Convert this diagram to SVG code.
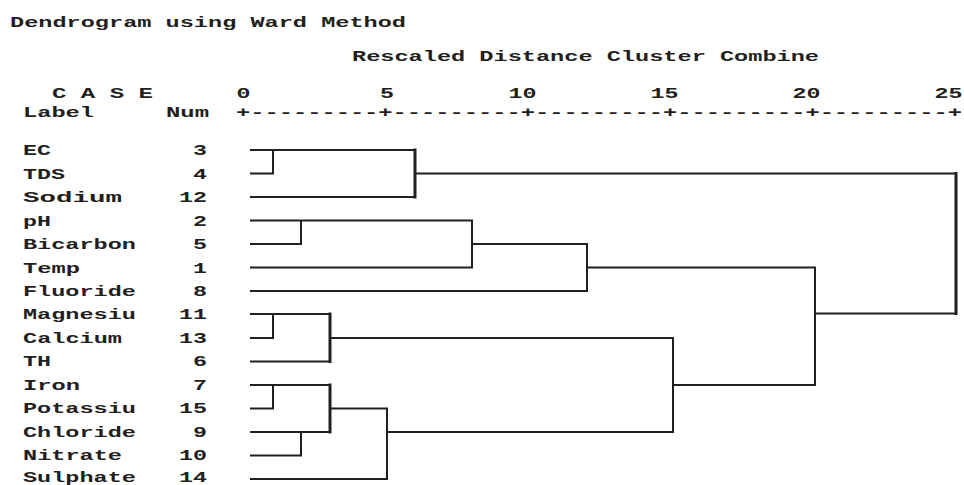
<svg xmlns="http://www.w3.org/2000/svg" width="964" height="485" viewBox="0 0 964 485">
<style>
  text { font-family: "Liberation Mono", "DejaVu Sans Mono", monospace; font-size: 14px; font-weight: bold; fill: #231f20; }
  .e { text-anchor: end; }
  .ln { fill: none; stroke: #231f20; stroke-width: 2; stroke-linecap: square; }
  .thick { stroke-width: 3; }
</style>
<rect width="964" height="485" fill="#ffffff"/>
<g id="header">
  <text x="10" y="27" textLength="396" lengthAdjust="spacingAndGlyphs">Dendrogram using Ward Method</text>
  <text x="352" y="61" textLength="467" lengthAdjust="spacingAndGlyphs">Rescaled Distance Cluster Combine</text>
  <text x="52" y="98" textLength="101" lengthAdjust="spacingAndGlyphs">C A S E</text>
  <text x="23" y="116.5" textLength="71" lengthAdjust="spacingAndGlyphs">Label</text>
  <text x="209" y="116.5" class="e" textLength="43" lengthAdjust="spacingAndGlyphs">Num</text>
</g>
<g id="axis">
  <text x="250.5" y="98" class="e" textLength="14" lengthAdjust="spacingAndGlyphs">0</text>
  <text x="394" y="98" class="e" textLength="14" lengthAdjust="spacingAndGlyphs">5</text>
  <text x="536.5" y="98" class="e" textLength="28" lengthAdjust="spacingAndGlyphs">10</text>
  <text x="678.5" y="98" class="e" textLength="28" lengthAdjust="spacingAndGlyphs">15</text>
  <text x="820.5" y="98" class="e" textLength="28" lengthAdjust="spacingAndGlyphs">20</text>
  <text x="962.5" y="98" class="e" textLength="28" lengthAdjust="spacingAndGlyphs">25</text>
  <text x="236" y="116.5" textLength="726" lengthAdjust="spacingAndGlyphs">+---------+---------+---------+---------+---------+</text>
</g>
<g id="leaves">
  <g id="n3"><text x="23" y="155" textLength="28" lengthAdjust="spacingAndGlyphs">EC</text><text x="207" y="155" class="e" textLength="14" lengthAdjust="spacingAndGlyphs">3</text></g>
  <g id="n4"><text x="23" y="178.5" textLength="42" lengthAdjust="spacingAndGlyphs">TDS</text><text x="207" y="178.5" class="e" textLength="14" lengthAdjust="spacingAndGlyphs">4</text></g>
  <g id="n12"><text x="23" y="202" textLength="99" lengthAdjust="spacingAndGlyphs">Sodium</text><text x="207" y="202" class="e" textLength="28" lengthAdjust="spacingAndGlyphs">12</text></g>
  <g id="n2"><text x="23" y="225.5" textLength="28" lengthAdjust="spacingAndGlyphs">pH</text><text x="207" y="225.5" class="e" textLength="14" lengthAdjust="spacingAndGlyphs">2</text></g>
  <g id="n5"><text x="23" y="249" textLength="113" lengthAdjust="spacingAndGlyphs">Bicarbon</text><text x="207" y="249" class="e" textLength="14" lengthAdjust="spacingAndGlyphs">5</text></g>
  <g id="n1"><text x="23" y="272.5" textLength="57" lengthAdjust="spacingAndGlyphs">Temp</text><text x="207" y="272.5" class="e" textLength="14" lengthAdjust="spacingAndGlyphs">1</text></g>
  <g id="n8"><text x="23" y="296" textLength="113" lengthAdjust="spacingAndGlyphs">Fluoride</text><text x="207" y="296" class="e" textLength="14" lengthAdjust="spacingAndGlyphs">8</text></g>
  <g id="n11"><text x="23" y="319" textLength="113" lengthAdjust="spacingAndGlyphs">Magnesiu</text><text x="207" y="319" class="e" textLength="28" lengthAdjust="spacingAndGlyphs">11</text></g>
  <g id="n13"><text x="23" y="342.5" textLength="99" lengthAdjust="spacingAndGlyphs">Calcium</text><text x="207" y="342.5" class="e" textLength="28" lengthAdjust="spacingAndGlyphs">13</text></g>
  <g id="n6"><text x="23" y="366" textLength="28" lengthAdjust="spacingAndGlyphs">TH</text><text x="207" y="366" class="e" textLength="14" lengthAdjust="spacingAndGlyphs">6</text></g>
  <g id="n7"><text x="23" y="389.5" textLength="57" lengthAdjust="spacingAndGlyphs">Iron</text><text x="207" y="389.5" class="e" textLength="14" lengthAdjust="spacingAndGlyphs">7</text></g>
  <g id="n15"><text x="23" y="413" textLength="113" lengthAdjust="spacingAndGlyphs">Potassiu</text><text x="207" y="413" class="e" textLength="28" lengthAdjust="spacingAndGlyphs">15</text></g>
  <g id="n9"><text x="23" y="436.5" textLength="113" lengthAdjust="spacingAndGlyphs">Chloride</text><text x="207" y="436.5" class="e" textLength="14" lengthAdjust="spacingAndGlyphs">9</text></g>
  <g id="n10"><text x="23" y="460" textLength="99" lengthAdjust="spacingAndGlyphs">Nitrate</text><text x="207" y="460" class="e" textLength="28" lengthAdjust="spacingAndGlyphs">10</text></g>
  <g id="n14"><text x="23" y="482" textLength="113" lengthAdjust="spacingAndGlyphs">Sulphate</text><text x="207" y="482" class="e" textLength="28" lengthAdjust="spacingAndGlyphs">14</text></g>
</g>
<g id="connectors">
  <path class="ln" d="M251,150 H415 M251,173.5 H273 M273,150 V173.5 M251,197 H415"/>
  <path class="ln thick" d="M415,150 V197"/>
  <path class="ln" d="M415,173.5 H956"/>
  <path class="ln" d="M251,220.5 H472 M251,244 H301 M301,220.5 V244 M251,267.5 H472 M472,220.5 V267.5 M472,244 H587 M251,291 H587 M587,244 V291 M587,267.5 H815 M815,267.5 V385 M815,313.5 H956"/>
  <path class="ln thick" d="M956,173.5 V313.5"/>
  <path class="ln" d="M251,314 H330 M251,338 H273 M273,314 V338 M251,361.5 H330 M330,338 H673 M673,338 V432 M673,385 H815"/>
  <path class="ln thick" d="M330,314 V361.5"/>
  <path class="ln" d="M251,385 H330 M251,408.5 H273 M273,385 V408.5 M251,432 H330 M251,455.5 H301 M301,432 V455.5 M330,408.5 H387 M251,479 H387 M387,408.5 V479 M387,432 H673"/>
  <path class="ln thick" d="M330,385 V432"/>
</g>
</svg>
